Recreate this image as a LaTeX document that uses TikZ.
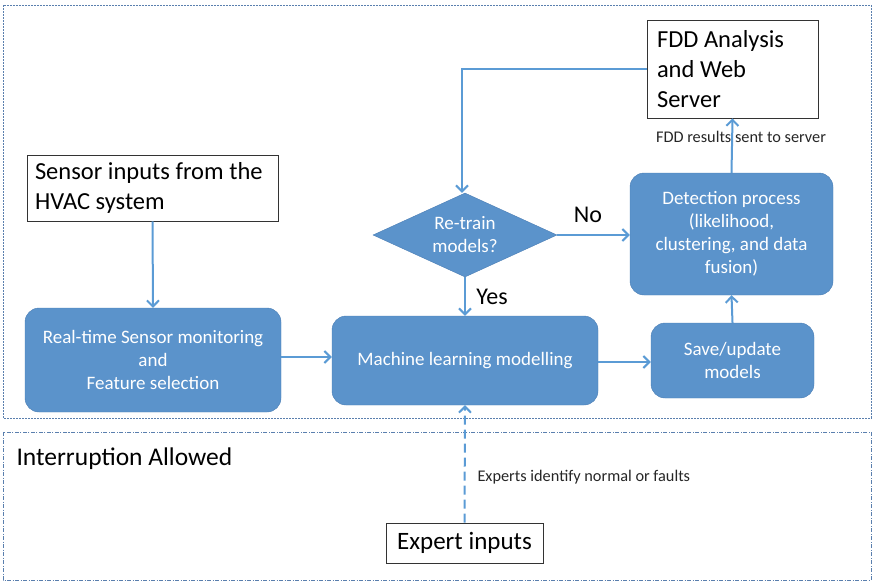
\documentclass[tikz,border=0pt]{standalone}
\usepackage{fontspec}
\setmainfont{Carlito}
\usetikzlibrary{shapes.geometric,arrows.meta}
\definecolor{boxblue}{HTML}{5B93CB}
\definecolor{boxedge}{HTML}{4A7DB4}
\definecolor{linkblue}{HTML}{5B9BD5}
\definecolor{framecol}{HTML}{5A7FAE}
\newcommand\tightwords{\spaceskip=0.23em\relax}
\tikzset{
  procbox/.style={draw=boxedge, fill=boxblue, rounded corners=14pt, text=white,
    align=center, font=\fontsize{19}{23}\selectfont, inner sep=0pt},
  plainbox/.style={draw=black!80, fill=white, line width=0.9pt, align=left,
    font=\fontsize{24.5}{30}\selectfont, execute at begin node=\tightwords, inner sep=0pt},
  decision/.style={draw=boxedge, fill=boxblue, diamond, aspect=2.2, text=white,
    align=center, font=\fontsize{19}{23}\selectfont, inner sep=0pt},
  link/.style={draw=linkblue, line width=2pt, -{Straight Barb[length=6pt,width=12pt]}},
  smalllabel/.style={font=\fontsize{16.3}{19}\selectfont, text=black!85},
  biglabel/.style={font=\fontsize{24}{28}\selectfont},
  frame/.style={draw=framecol, line width=0.8pt}
}
\begin{document}
\begin{tikzpicture}[x=1pt,y=-1pt]
\useasboundingbox (0,0) rectangle (874,582);
% frames
\draw[frame, dash pattern=on 2pt off 1pt] (3,5) rectangle (871,418);
\draw[frame, dash pattern=on 4pt off 1.5pt on 1pt off 1.5pt] (3,432) rectangle (871,580);
\node[anchor=west, font=\fontsize{25.5}{30}\selectfont] (intr) at (13,459) {Interruption Allowed};

% boxes
\node[plainbox, minimum width=171pt, minimum height=98pt, text width=151pt] (fdd) at (732.5,69)
  {FDD Analysis\\and Web\\Server};
\node[plainbox, minimum width=251pt, minimum height=66pt, text width=235pt] (sensor) at (152.5,188)
  {Sensor inputs from the\\HVAC system};
\node[procbox, minimum width=203pt, minimum height=122pt] (detect) at (731.5,234)
  {Detection process\\(likelihood,\\clustering, and data\\fusion)};
\node[procbox, minimum width=256pt, minimum height=104pt] (rt) at (153,360)
  {Real-time Sensor monitoring\\and\\Feature selection};
\node[procbox, minimum width=266pt, minimum height=89pt] (ml) at (465,360.5)
  {Machine learning modelling};
\node[procbox, minimum width=163pt, minimum height=75pt] (save) at (732.5,360.5)
  {Save/update\\models};
\node[decision, minimum width=184pt, minimum height=84pt] (retrain) at (465,235)
  {Re-train\\models?};
\node[plainbox, minimum width=157pt, minimum height=40pt, align=center,
  font=\fontsize{25}{30}\selectfont] (expert) at (464.5,543) {Expert inputs};

% connectors
\coordinate (turn) at (462,69);
\draw[link] (fdd.west) -- (turn) -- (retrain.north -| turn);
\draw[link] (sensor.south) -- (rt.north);
\draw[link] (rt.east |- 0,357) -- (ml.west |- 0,357);
\draw[link] (ml.east |- 0,362) -- (save.west |- 0,362);
\draw[link] (save.north) -- (detect.south);
\draw[link] (detect.north) -- (fdd.south);
\draw[link] (retrain.east) -- (detect.west |- retrain.east);
\draw[link] (retrain.south) -- (ml.north);
\draw[link, dashed, dash pattern=on 9pt off 5pt] (expert.north) -- (ml.south);

% labels
\node[smalllabel] (fddlbl) at (741,137) {FDD results sent to server};
\node[biglabel] (nolbl) at (588,215) {No};
\node[biglabel] (yeslbl) at (492,297) {Yes};
\node[smalllabel, anchor=west] (explbl) at (474,477) {Experts identify normal or faults};
\end{tikzpicture}
\end{document}
